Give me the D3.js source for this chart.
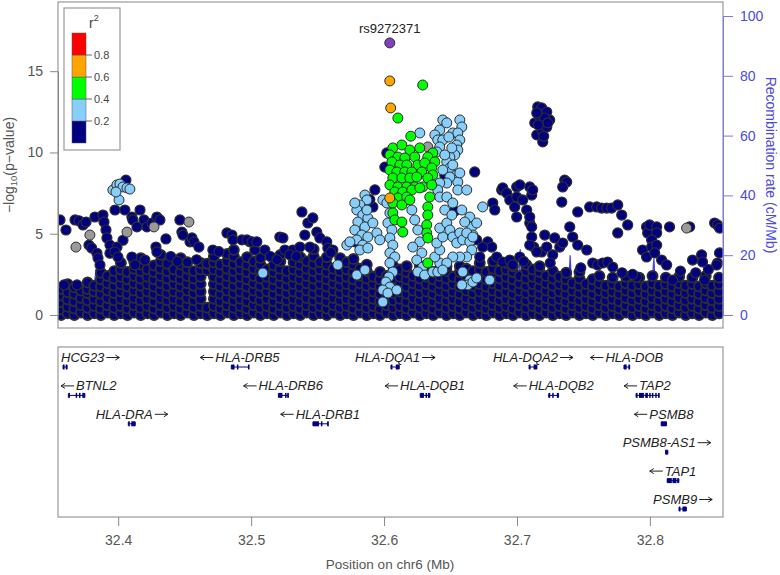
<!DOCTYPE html>
<html><head><meta charset="utf-8">
<script src="https://cdn.jsdelivr.net/npm/d3@7"></script>
<style>body{margin:0;background:#fff}text{font-family:"Liberation Sans",Arial,sans-serif}</style>
</head><body><svg id="c" width="780" height="575"></svg>
<script>
// ---------- DATA ----------
const xTicks = [32.4, 32.5, 32.6, 32.7, 32.8];
const yTicks = [0, 5, 10, 15];
const recTicks = [0, 20, 40, 60, 80, 100];
const r2Breaks = [0.2, 0.4, 0.6, 0.8];
const r2Colors = ["#000080", "#87CEFA", "#00FF00", "#FFA500", "#FF0000"];

// dense low-significance band (navy): [position Mb, -log10 p values...]
const bandCols = [
[32.357,0,.35,.8,1.2,1.6],[32.362,.1,.5,.95,1.4,1.9],[32.367,0,.4,.85,1.3,1.7],[32.372,.15,.6,1.05,1.5],
[32.377,0,.45,.9,1.35,1.6,2.0],[32.382,.1,.55,1,1.45,1.8],[32.387,0,.4,.85,1.3,1.75,2.2,2.6],[32.392,.15,.6,1.05,1.5,1.95,2.4],
[32.397,0,.45,.9,1.35,1.8,2.25,2.7],[32.402,.1,.55,1,1.45,1.9,2.35,2.8,3.2],[32.407,0,.4,.85,1.3,1.75,2.2,2.65],[32.412,.15,.6,1.05,1.5,1.95,2.4,2.85,3.3],
[32.417,0,.45,.9,1.35,1.8,2.25,2.7,3.1,3.5],[32.422,.1,.55,1,1.45,1.9,2.35,2.8],[32.427,0,.4,.85,1.3,1.75,2.2,2.65,3.05],[32.432,.15,.6,1.05,1.5,1.95,2.4,2.85,3.3,3.7],
[32.437,0,.45,.9,1.35,1.8,2.25,2.7,3.15],[32.442,.1,.55,1,1.45,1.9,2.35,2.8],[32.447,0,.4,.85,1.3,1.75,2.2,2.65,3.1,3.5],[32.452,.15,.6,1.05,1.5,1.95,2.4,2.85,3.25],
[32.457,0,.45,.9,1.35,1.8,2.25,2.7],[32.462,.1,.55,1,1.45,1.9,2.35,2.8,3.2],[32.467,0,.45,2.75,3.15],[32.472,.1,.55,1,1.45,1.9,2.35,2.8,3.25,3.6],
[32.477,0,.4,.85,1.3,1.75,2.2,2.65,3.1],[32.482,.15,.6,1.05,1.5,1.95,2.4,2.85,3.3,3.75],[32.487,0,.45,.9,1.35,1.8,2.25,2.7,3.15,3.6,4.0],[32.492,.1,.55,1,1.45,1.9,2.35,2.8,3.25],
[32.497,0,.4,.85,1.3,1.75,2.2,2.65,3.1,3.55],[32.502,.15,.6,1.05,1.5,1.95,2.4,2.85,3.3],[32.507,0,.45,.9,1.35,1.8,2.25,2.7,3.1,3.5],[32.512,.1,.55,1,1.45,1.9,2.35,2.8],
[32.517,0,.4,.85,1.3,1.75,2.2,2.65,3.05],[32.522,.15,.6,1.05,1.5,1.95,2.4,2.85,3.3,3.7],[32.527,0,.45,.9,1.35,1.8,2.25,2.7],[32.532,.1,.55,1,1.45,1.9,2.35,2.8,3.25],
[32.537,0,.4,.85,1.3,1.75,2.2,2.65,3.1,3.55],[32.542,.15,.6,1.05,1.5,1.95,2.4,2.85,3.3],[32.547,0,.45,.9,1.35,1.8,2.25,2.7,3.15,3.6,4.05],[32.552,.1,.55,1,1.45,1.9,2.35,2.8,3.25],
[32.557,0,.4,.85,1.3,1.75,2.2,2.65,3.1,3.55],[32.562,.15,.6,1.05,1.5,1.95,2.4,2.85],[32.567,0,.45,.9,1.35,1.8,2.25,2.7,3.15,3.5],[32.572,.1,.55,1,1.45,1.9,2.35,2.8,3.25],
[32.577,0,.4,.85,1.3,1.75,2.2,2.65,3.1,3.45],[32.582,.15,.6,1.05,1.5,1.95,2.4,2.85],[32.587,0,.45,.9,1.35,1.8,2.25,2.7,3.1],[32.592,.1,.55,1,1.45,1.9,2.35],
[32.597,0,.4,.85,1.3,1.75,2.2,2.65],[32.602,.15,.6,1.05,1.5,1.95,2.4],[32.607,0,.45,.9,1.35,1.8,2.25,2.7,3.0],[32.612,.1,.55,1,1.45,1.9,2.35,2.8],
[32.617,0,.4,.85,1.3,1.75,2.2,2.65,3.0],[32.622,.15,.6,1.05,1.5,1.95,2.4],[32.627,0,.45,.9,1.35,1.8,2.25,2.7,3.0],[32.632,.1,.55,1,1.45,1.9,2.35,2.8],
[32.637,0,.4,.85,1.3,1.75,2.2,2.65],[32.642,.15,.6,1.05,1.5,1.95,2.4,2.85],[32.647,0,.45,.9,1.35,1.8,2.25,2.7,3.0],[32.652,.1,.55,1,1.45,1.9,2.35],
[32.657,0,.4,.85,1.3,1.75,2.2,2.65,3.0],[32.662,.15,.6,1.05,1.5,1.95,2.4,2.85],[32.667,0,.45,.9,1.35,1.8,2.25,2.7],[32.672,.1,.55,1,1.45,1.9,2.35,2.8,3.2],
[32.677,0,.4,.85,1.3,1.75,2.2,2.65],[32.682,.15,.6,1.05,1.5,1.95,2.4,2.85,3.3],[32.687,0,.45,.9,1.35,1.8,2.25,2.7],[32.692,.1,.55,1,1.45,1.9,2.35,2.8,3.2],
[32.697,0,.4,.85,1.3,1.75,2.2,2.65,3.0],[32.702,.15,.6,1.05,1.5,1.95,2.4],[32.707,0,.45,.9,1.35,1.8,2.25,2.7,3.1],[32.712,.1,.55,1,1.45,1.9,2.35,2.8],
[32.717,0,.4,.85,1.3,1.75,2.2,2.65,3.0],[32.722,.15,.6,1.05,1.5,1.95,2.4],[32.727,0,.45,.9,1.35,1.8,2.25,2.7],[32.732,.1,.55,1,1.45,1.9,2.35],
[32.737,0,.4,.85,1.3,1.75,2.2,2.6],[32.742,.15,.6,1.05,1.5,1.95],[32.747,0,.45,.9,1.35,1.8,2.25,2.65],[32.752,.1,.55,1,1.45,1.9],
[32.757,0,.4,.85,1.3,1.75,2.2],[32.762,.15,.6,1.05,1.5,1.95,2.4],[32.767,0,.45,.9,1.35,1.8],[32.772,.1,.55,1,1.45,1.9,2.3],
[32.777,0,.4,.85,1.3,1.75],[32.782,.15,.6,1.05,1.5,1.95,2.35],[32.787,0,.45,.9,1.35,1.8],[32.792,.1,.55,1,1.45,1.9,2.3],
[32.797,0,.4,.85,1.3,1.75],[32.802,.15,.6,1.05,1.5,1.95,2.4],[32.807,0,.45,.9,1.35,1.8],[32.812,.1,.55,1,1.45,1.9,2.3],
[32.817,0,.4,.85,1.3,1.75],[32.822,.15,.6,1.05,1.5,1.95,2.35],[32.827,0,.45,.9,1.35,1.8],[32.832,.1,.55,1,1.45,1.9,2.3],
[32.837,0,.4,.85,1.3,1.75],[32.842,.15,.6,1.05,1.5,1.95,2.4],[32.847,0,.45,.9,1.35,1.8],[32.852,.1,.55,1,1.45,1.9,2.3]
];

// scattered navy (r2 < 0.2): [position, -log10 p]
const navyPts = [
[32.3562,5.85],[32.3607,5.23],[32.3675,5.85],[32.3705,5.8],[32.3735,5.54],[32.3758,5.72],[32.3592,1.85],[32.369,1.85],
[32.3825,6.03],[32.378,4.3],[32.380,4.12],[32.384,3.8],[32.3848,3.5],[32.3863,3.08],[32.3885,6.15],[32.3893,5.72],
[32.3908,5.23],[32.3915,4.74],[32.3938,4.3],[32.3938,3.8],[32.3976,6.46],[32.405,6.46],[32.4103,6.03],[32.411,5.85],
[32.4164,6.46],[32.4141,5.42],[32.4194,5.85],[32.4216,5.42],[32.4254,5.66],[32.4291,6.03],[32.4314,5.85],[32.4036,4.6],
[32.3991,4.18],[32.3976,3.88],[32.3998,3.57],[32.4103,3.57],[32.4126,3.08],[32.4201,3.38],[32.4284,4.18],[32.4291,3.88],
[32.4359,4.68],[32.4464,5.85],[32.4479,5.1],[32.4487,4.92],[32.454,4.5],[32.4555,4.74],[32.457,4.5],[32.4607,4.18],
[32.4058,8.3],[32.4818,5.05],[32.4855,4.92],[32.4863,4.62],[32.4931,4.62],[32.4991,4.5],[32.5028,4.0],[32.5103,4.0],
[32.4712,4.0],[32.4968,4.62],[32.5006,4.5],[32.5043,4.5],[32.5216,4.8],[32.5239,4.74],[32.5254,4.0],[32.5314,4.0],
[32.5382,6.34],[32.5427,5.66],[32.5464,5.97],[32.5404,4.92],[32.5494,5.1],[32.5517,4.74],[32.5569,4.5],[32.5367,4.18],
[32.5442,4.18],[32.5577,4.12],[32.5615,4.0],[32.578,4.5],[32.4395,3.6],[32.4445,3.3],[32.4590,3.4],[32.4758,3.9],
[32.5145,3.6],[32.5195,3.4],[32.5290,3.7],[32.5600,3.85],[32.5340,3.6],
[32.6021,9.97],[32.6006,9.1],[32.5931,7.7],[32.5916,6.65],[32.5893,7.1],[32.6682,8.8],[32.6457,8.6],[32.6532,6.4],
[32.6818,6.89],[32.6833,6.46],[32.6885,7.69],[32.6893,7.82],[32.6923,7.5],[32.6946,7.08],[32.6998,7.88],[32.7021,8.0],
[32.6998,7.26],[32.6983,6.65],[32.6998,6.03],[32.7043,7.08],[32.7096,7.88],[32.7111,7.38],[32.7118,7.69],[32.7073,6.46],
[32.7096,5.66],[32.7111,4.8],[32.7126,4.18],[32.7186,3.88],
[32.7156,12.8],[32.7186,12.74],[32.7224,12.49],[32.7246,12.0],[32.7134,11.82],[32.7149,11.08],[32.7194,10.65],[32.7186,11.38],
[32.7224,11.57],[32.7171,12.18],[32.7209,12.12],[32.7231,11.82],[32.7149,12.43],[32.7201,11.0],[32.7160,11.7],
[32.7337,6.95],[32.7359,8.3],[32.7374,8.18],[32.7344,7.88],[32.7457,6.34],[32.7419,4.8],[32.7457,4.3],[32.7525,4.0],
[32.7547,6.65],[32.76,6.65],[32.7637,6.58],[32.7675,6.58],[32.7712,6.58],[32.7758,6.77],[32.7788,6.15],[32.7758,5.05],
[32.7833,5.54],[32.757,3.2],[32.7607,3.08],[32.7645,3.2],[32.7682,3.26],[32.772,2.95],[32.79,2.34],[32.7945,4.0],
[32.7975,5.42],[32.7983,5.05],[32.7998,5.54],[32.8051,5.42],[32.8051,5.05],[32.8013,4.62],[32.8013,4.18],[32.8051,4.3],
[32.7975,3.57],[32.8036,3.82],[32.8088,3.38],[32.8126,3.08],[32.8148,5.42],[32.8171,2.15],[32.8299,5.42],[32.8321,3.38],
[32.8389,3.7],[32.8396,3.26],[32.8411,2.15],[32.8487,5.66],[32.8509,5.54],[32.8524,5.35],[32.8509,3.2],[32.8502,3.08],
[32.8524,3.82],[32.7397,5.42],[32.7269,3.7],[32.7322,4.18],[32.7284,4.74],[32.7344,4.43],[32.7096,6.03],[32.7111,5.42],
[32.7096,4.3],[32.7209,4.92],[32.7224,4.18],[32.7149,3.88],[32.7021,3.57],[32.6848,3.57],[32.6893,3.26],[32.6946,3.38],
[32.6968,3.08],[32.678,4.5],[32.681,4.18],[32.6697,4.62],[32.6742,4.18],[32.672,3.57],[32.7050,3.3],[32.7250,3.2],
[32.7480,2.9],[32.7790,2.6],[32.7870,2.5],[32.8230,2.7],[32.8345,2.6],[32.8440,2.8]
];

// grey (no LD information)
const grayPts = [
[32.3682,4.18],[32.3787,4.92],[32.4066,5.1],[32.4269,5.42],[32.4532,5.72],[32.6329,10.34],[32.8276,5.35]
];

// light blue (0.2 <= r2 < 0.4)
const lightBluePts = [
[32.396,7.69],[32.399,8.0],[32.4013,8.06],[32.4036,7.88],[32.4066,7.82],[32.4088,7.75],[32.4006,7.08],[32.3983,7.57],
[32.5088,2.58],[32.6742,6.65],[32.6645,6.03],[32.666,5.42],[32.6668,4.92],[32.6645,2.15],[32.6795,2.15],[32.5652,3.08],[32.572,4.3],
[32.6442,12.0],[32.6472,11.82],[32.657,12.0],[32.6585,11.57],[32.6419,11.38],[32.6382,11.08],[32.6404,10.77],[32.6442,10.77],
[32.6517,11.2],[32.6555,11.2],[32.657,10.77],[32.6547,10.46],[32.6555,10.15],[32.6532,9.85],[32.6495,9.72],[32.6419,10.34],
[32.6397,10.03],[32.6472,9.42],[32.6495,9.05],[32.6547,8.62],[32.6555,8.18],[32.6495,8.49],[32.6472,8.12],[32.6419,8.12],
[32.6404,7.69],[32.6419,7.26],[32.6472,7.26],[32.6517,6.89],[32.6555,7.69],[32.6269,11.2],[32.657,8.74],[32.6487,10.95],
[32.651,10.28],[32.6457,9.85],[32.6517,9.23],[32.6442,8.92],
[32.5856,7.38],[32.5871,7.08],[32.5818,6.77],[32.5795,6.46],[32.584,6.15],[32.5878,5.97],[32.5803,5.72],[32.5856,5.42],
[32.578,5.23],[32.5833,4.92],[32.5878,4.8],[32.5795,4.62],[32.584,4.3],[32.5743,4.5],[32.5818,4.0],[32.5878,4.12],
[32.5916,5.66],[32.5946,5.05],[32.5968,4.62],[32.5991,7.08],[32.6021,6.89],[32.6044,6.28],[32.6029,5.66],[32.6059,5.23],
[32.6044,4.74],[32.6066,4.3],[32.6044,3.82],[32.6081,3.57],[32.6044,3.2],[32.6066,2.65],[32.6036,2.34],[32.6014,2.03],
[32.6044,1.72],[32.5991,1.54],[32.6029,1.35],[32.5991,0.8],[32.578,6.89],[32.5871,6.46],[32.5795,2.46],[32.5856,2.77],
[32.6171,7.08],[32.6209,6.46],[32.6231,5.85],[32.6254,5.23],[32.6269,4.5],[32.6216,4.18],[32.6284,3.82],[32.6246,3.38],
[32.6291,2.95],[32.6254,2.65],[32.6306,2.46],[32.6367,2.65],[32.6404,2.65],[32.6419,3.2],[32.6382,3.57],[32.6419,4.0],
[32.6397,4.43],[32.6442,4.8],[32.6419,5.35],[32.6472,5.66],[32.6495,5.23],[32.6517,4.8],[32.6547,4.43],[32.657,5.05],
[32.6592,4.62],[32.6622,5.05],[32.6645,4.5],[32.666,4.0],[32.6622,3.57],[32.657,3.57],[32.6517,3.57],[32.6472,3.2],
[32.6442,2.77],[32.6668,4.8],[32.6697,5.66],[32.6622,7.69],[32.6592,2.65],[32.663,1.85],[32.6585,1.85],[32.6668,2.03],
[32.6697,2.28],[32.6457,6.46],[32.651,6.15],[32.6585,6.46],[32.6607,5.72],[32.6096,1.54]
];

// green (0.4 <= r2 < 0.6)
const greenPts = [
[32.6291,14.15],[32.6104,12.12],[32.6201,11.0],[32.6066,10.28],[32.6134,10.46],[32.6194,10.15],[32.6269,10.28],[32.6367,9.97],
[32.6044,9.85],[32.6104,9.72],[32.6156,9.66],[32.6231,9.72],[32.6329,9.72],[32.6382,9.42],[32.6059,9.42],[32.6119,9.23],
[32.6171,9.23],[32.6254,9.23],[32.6306,9.35],[32.6359,9.05],[32.6044,8.92],[32.6096,8.8],[32.6156,8.8],[32.6209,8.8],
[32.6284,8.8],[32.6367,8.62],[32.6066,8.43],[32.6134,8.43],[32.6194,8.43],[32.6246,8.49],[32.6329,8.43],[32.6044,8.0],
[32.6104,7.88],[32.6171,7.88],[32.6231,7.88],[32.6291,7.88],[32.6359,8.0],[32.6081,7.57],[32.6141,7.57],[32.6209,7.69],
[32.6269,7.82],[32.6104,7.2],[32.6171,7.26],[32.6066,6.89],[32.6134,6.77],[32.6194,7.08],[32.6344,7.26],[32.6066,6.28],
[32.6081,5.85],[32.6134,5.72],[32.6141,5.1],[32.6329,6.65],[32.6329,6.15],[32.6321,5.54],[32.6321,5.05],[32.6329,4.74],
[32.6329,3.2]
];

// orange (0.6 <= r2 < 0.8)
const orangePts = [[32.6043,14.4],[32.605,12.74],[32.6043,7.2]];

// index SNP
const leadSnp = {name: "rs9272371", pos: 32.6043, logp: 16.74};

// recombination rate (cM/Mb)
const recPos  = [32.354,32.380,32.3832,32.3845,32.3865,32.420,32.460,32.472,32.500,32.550,32.600,32.650,32.680,32.6815,32.683,32.700,32.7025,32.704,32.714,32.715,32.716,32.738,32.740,32.742,32.800,32.803,32.805,32.856];
const recRate = [0.5,0.8,15,14,0.5,0.3,0.3,0.3,0.5,0.4,0.3,0.5,0.5,17,0.6,0.5,22,0.8,1,16,1,0.5,20,0.5,0.5,19,0.5,0.5];

// genes
const geneNames  = ["HCG23","BTNL2","HLA-DRA","HLA-DRB5","HLA-DRB6","HLA-DRB1","HLA-DQA1","HLA-DQB1","HLA-DQA2","HLA-DQB2","HLA-DOB","TAP2","PSMB8","PSMB8-AS1","TAP1","PSMB9"];
const geneStart  = [32.3585,32.3625,32.4076,32.4851,32.5205,32.5465,32.6052,32.6272,32.7091,32.7239,32.7805,32.7896,32.8085,32.8118,32.8130,32.8219];
const geneEnd    = [32.3615,32.3749,32.4128,32.4980,32.5278,32.5576,32.6114,32.6345,32.7150,32.7313,32.7848,32.8066,32.8125,32.8135,32.8218,32.8274];
const geneStrand = ["+","-","+","-","-","-","+","-","+","-","-","-","-","+","-","+"];
const geneRow    = [0,1,2,0,1,2,0,1,0,1,0,1,2,3,4,5];
const geneExons  = [
 [[32.3585,32.3595],[32.3605,32.3615]],
 [[32.3625,32.3637],[32.3680,32.3690],[32.3705,32.3715],[32.3730,32.3749]],
 [[32.4076,32.4082],[32.4098,32.4128]],
 [[32.4851,32.4875],[32.4893,32.4900],[32.4977,32.4980]],
 [[32.5205,32.5235],[32.5255,32.5262],[32.5272,32.5278]],
 [[32.5465,32.5510],[32.5525,32.5530],[32.5573,32.5576]],
 [[32.6052,32.6055],[32.6088,32.6114]],
 [[32.6272,32.6300],[32.6312,32.6320],[32.6330,32.6345]],
 [[32.7091,32.7094],[32.7125,32.7150]],
 [[32.7239,32.7245],[32.7265,32.7272],[32.7300,32.7313]],
 [[32.7805,32.7825],[32.7838,32.7848]],
 [[32.7896,32.7899],[32.7918,32.7955],[32.7965,32.7985],[32.7995,32.8005],[32.8015,32.8025],[32.8040,32.8050],[32.8062,32.8066]],
 [[32.8085,32.8125]],
 [[32.8118,32.8135]],
 [[32.8130,32.8165],[32.8170,32.8200],[32.8205,32.8218]],
 [[32.8219,32.8222],[32.8245,32.8274]]
];

// ---------- DRAW ----------
const svg = d3.select("#c");
const P = {l: 58, r: 723, t: 2, b: 328};
const G = {t: 347, b: 517};

const x  = d3.scaleLinear().domain([32.3547, 32.855]).range([P.l, P.r]);
const y  = d3.scaleLinear().domain([0, 15]).range([315, 71.2]);
const yR = d3.scaleLinear().domain([0, 100]).range([315, 16]);
const rowY = d3.scaleLinear().domain([0, 5]).range([367, 509]);

svg.append("defs").append("clipPath").attr("id", "clipTop")
  .append("rect").attr("x", P.l).attr("y", P.t).attr("width", P.r - P.l).attr("height", P.b - P.t);

const plot = svg.append("g").attr("clip-path", "url(#clipTop)");

// recombination line
plot.append("path")
  .datum(recPos.map((p, i) => [p, recRate[i]]))
  .attr("fill", "none").attr("stroke", "#3b3bff").attr("stroke-width", 1.2)
  .attr("d", d3.line().x(d => x(d[0])).y(d => yR(d[1])));

function drawPts(data, fill, sw) {
  plot.append("g").selectAll("circle").data(data).join("circle")
    .attr("cx", d => x(d[0])).attr("cy", d => y(d[1])).attr("r", 5)
    .attr("fill", fill).attr("stroke", "#2e2e2e").attr("stroke-width", sw || 1);
}
const bandPts = [];
bandCols.forEach(c => c.slice(1).forEach(v => bandPts.push([c[0], v])));
drawPts(bandPts, r2Colors[0], 1.9);
drawPts(navyPts, r2Colors[0], 1.2);
drawPts(grayPts, "#9a9a9a");
drawPts(lightBluePts, r2Colors[1]);
drawPts(greenPts, r2Colors[2]);
drawPts(orangePts, r2Colors[3]);
drawPts([[leadSnp.pos, leadSnp.logp]], "#8040C0");

svg.append("text").attr("x", x(leadSnp.pos)).attr("y", y(leadSnp.logp) - 10)
  .attr("text-anchor", "middle").attr("font-size", 13).attr("fill", "#222").text(leadSnp.name);

// frames
svg.append("rect").attr("x", P.l).attr("y", P.t).attr("width", P.r - P.l).attr("height", P.b - P.t)
  .attr("fill", "none").attr("stroke", "#999").attr("stroke-width", 1.2);
svg.append("rect").attr("x", P.l).attr("y", G.t).attr("width", P.r - P.l).attr("height", G.b - G.t)
  .attr("fill", "none").attr("stroke", "#999").attr("stroke-width", 1.2);

// left axis
const ax = svg.append("g").attr("transform", `translate(${P.l},0)`)
  .call(d3.axisLeft(y).tickValues(yTicks).tickSize(8).tickSizeOuter(0).tickPadding(7));
ax.select(".domain").attr("stroke", "#888");
ax.selectAll(".tick line").attr("stroke", "#888");
ax.selectAll("text").attr("font-size", 14).attr("fill", "#555").attr("font-family", "Liberation Sans, Arial");

// right axis
const ar = svg.append("g").attr("transform", `translate(${P.r},0)`)
  .call(d3.axisRight(yR).tickValues(recTicks).tickSize(10).tickSizeOuter(0).tickPadding(7));
ar.select(".domain").attr("stroke", "#7a7aee");
ar.selectAll(".tick line").attr("stroke", "#7a7aee");
ar.selectAll("text").attr("font-size", 14).attr("fill", "#4a4ae0").attr("font-family", "Liberation Sans, Arial");

// x axis
const axb = svg.append("g").attr("transform", `translate(0,${G.b})`)
  .call(d3.axisBottom(x).tickValues(xTicks).tickFormat(d3.format(".1f")).tickSize(9).tickPadding(9));
axb.select(".domain").remove();
axb.selectAll(".tick line").attr("stroke", "#888");
axb.selectAll("text").attr("font-size", 14).attr("fill", "#555").attr("font-family", "Liberation Sans, Arial");

// titles
const yl = svg.append("text").attr("transform", "translate(14,165) rotate(-90)")
  .attr("text-anchor", "middle").attr("font-size", 14).attr("fill", "#555");
yl.append("tspan").text("\u2212log");
yl.append("tspan").attr("font-size", 9.5).attr("dy", 3).text("10");
yl.append("tspan").attr("dy", -3).text("(p\u2212value)");

svg.append("text").attr("transform", "translate(766,165) rotate(90)")
  .attr("text-anchor", "middle").attr("font-size", 14).attr("fill", "#4a4ae0")
  .text("Recombination rate (cM/Mb)");

svg.append("text").attr("x", 390).attr("y", 569).attr("text-anchor", "middle")
  .attr("font-size", 13.5).attr("fill", "#555").text("Position on chr6 (Mb)");

// legend
const lg = svg.append("g");
lg.append("rect").attr("x", 64).attr("y", 8).attr("width", 56).attr("height", 142)
  .attr("fill", "#fff").attr("stroke", "#999").attr("stroke-width", 1.2);
const lt = lg.append("text").attr("x", 89).attr("y", 28).attr("font-size", 14).attr("fill", "#444");
lt.append("tspan").text("r");
lt.append("tspan").attr("font-size", 9).attr("dy", -7).text("2");
const ly = d3.scaleLinear().domain([0, 1]).range([143, 33]);
const legBins = [0, 0.2, 0.4, 0.6, 0.8, 1.0];
lg.selectAll("rect.bin").data(r2Colors).join("rect").attr("class", "bin")
  .attr("x", 72).attr("width", 14)
  .attr("y", (d, i) => ly(legBins[i + 1])).attr("height", (d, i) => ly(legBins[i]) - ly(legBins[i + 1]))
  .attr("fill", d => d).attr("stroke", "#555").attr("stroke-width", 0.5);
lg.selectAll("line.tk").data(r2Breaks).join("line").attr("class", "tk")
  .attr("x1", 86).attr("x2", 92).attr("y1", d => ly(d)).attr("y2", d => ly(d)).attr("stroke", "#666");
lg.selectAll("text.lb").data(r2Breaks).join("text").attr("class", "lb")
  .attr("x", 94).attr("y", d => ly(d) + 4).attr("font-size", 11).attr("fill", "#444").text(d => d.toFixed(1));

// genes
const genes = geneNames.map((n, i) => ({name: n, s: geneStart[i], e: geneEnd[i], strand: geneStrand[i], row: geneRow[i], exons: geneExons[i]}));
const gg = svg.append("g");
const arrowLen = 13, arrowGap = 2;
genes.forEach(g => {
  const yy = rowY(g.row);
  gg.append("line").attr("x1", x(g.s)).attr("x2", x(g.e)).attr("y1", yy).attr("y2", yy)
    .attr("stroke", "#000080").attr("stroke-width", 1);
  gg.append("line").attr("x1", x(g.s)).attr("x2", x(g.s)).attr("y1", yy - 2).attr("y2", yy + 2).attr("stroke", "#000080");
  gg.append("line").attr("x1", x(g.e)).attr("x2", x(g.e)).attr("y1", yy - 2).attr("y2", yy + 2).attr("stroke", "#000080");
  g.exons.forEach(ex => {
    gg.append("rect").attr("x", x(ex[0])).attr("y", yy - 2.5)
      .attr("width", Math.max(1.5, x(ex[1]) - x(ex[0]))).attr("height", 5).attr("fill", "#000080");
  });
  const base = yy - 5;
  const t = gg.append("text").attr("y", base).attr("font-size", 13).attr("font-style", "italic")
    .attr("fill", "#222").text(g.name);
  const w = t.node().getComputedTextLength();
  const W = w + arrowGap + arrowLen;
  let x0 = x((g.s + g.e) / 2) - W / 2;
  x0 = Math.max(P.l + 3, Math.min(P.r - 3 - W, x0));
  const ay = base - 4.5;
  let a0, a1;
  if (g.strand === "+") { t.attr("x", x0); a0 = x0 + w + arrowGap; a1 = a0 + arrowLen; }
  else { t.attr("x", x0 + arrowLen + arrowGap); a0 = x0 + arrowLen; a1 = x0; }
  const dir = Math.sign(a1 - a0);
  gg.append("path")
    .attr("d", `M${a0},${ay}L${a1},${ay}M${a1 - dir * 4},${ay - 2.5}L${a1},${ay}L${a1 - dir * 4},${ay + 2.5}`)
    .attr("fill", "none").attr("stroke", "#222").attr("stroke-width", 1);
});
</script></body></html>
